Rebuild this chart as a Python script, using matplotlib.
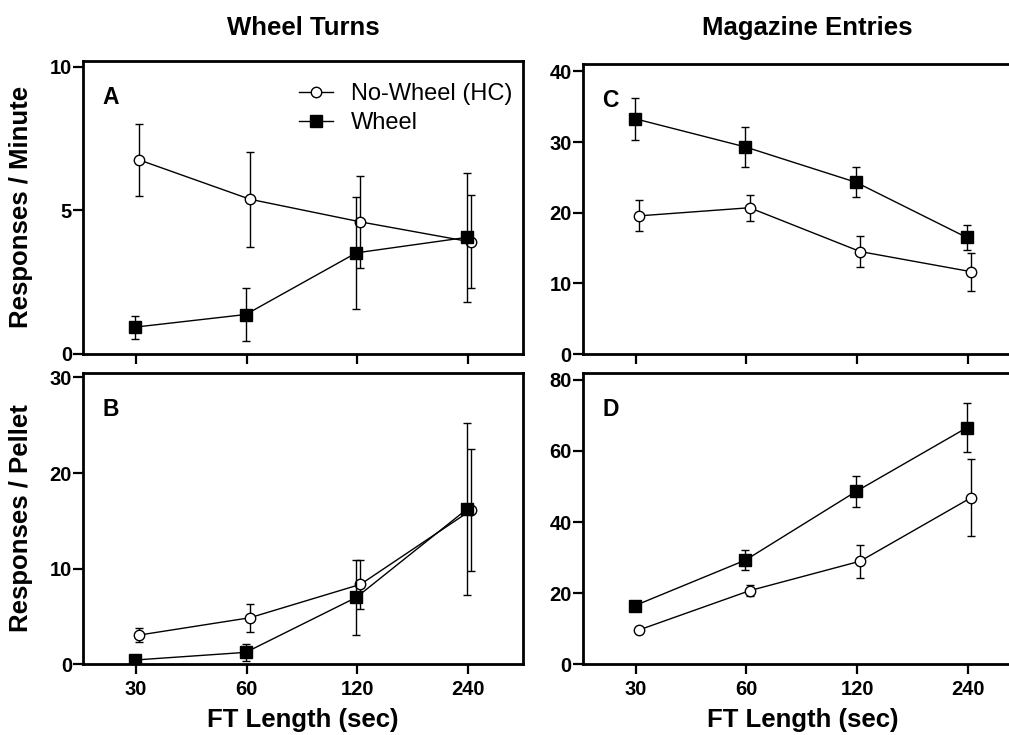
import numpy as np
import matplotlib
matplotlib.use('Agg')
import matplotlib.pyplot as plt
from matplotlib.lines import Line2D

plt.rcParams['font.family'] = ['Liberation Sans', 'DejaVu Sans']

# FT schedule lengths (sec)
ft = [30, 60, 120, 240]
ft_labels = ['30', '60', '120', '240']

# wheel turns: responses per minute (mean, sem)
wt_rate_hc = [6.75, 5.38, 4.59, 3.89]
wt_rate_hc_err = [1.25, 1.65, 1.60, 1.62]
wt_rate_wh = [0.92, 1.36, 3.51, 4.05]
wt_rate_wh_err = [0.40, 0.92, 1.95, 2.25]

# wheel turns: responses per pellet
wt_pel_hc = [3.06, 4.87, 8.36, 16.12]
wt_pel_hc_err = [0.70, 1.45, 2.55, 6.40]
wt_pel_wh = [0.45, 1.25, 7.00, 16.23]
wt_pel_wh_err = [0.30, 0.90, 3.90, 9.00]

# magazine entries: responses per minute
me_rate_hc = [19.55, 20.70, 14.50, 11.66]
me_rate_hc_err = [2.20, 1.85, 2.25, 2.70]
me_rate_wh = [33.30, 29.30, 24.30, 16.50]
me_rate_wh_err = [3.00, 2.85, 2.15, 1.75]

# magazine entries: responses per pellet
me_pel_hc = [9.66, 20.70, 29.00, 46.80]
me_pel_hc_err = [0.80, 1.60, 4.60, 10.80]
me_pel_wh = [16.50, 29.30, 48.60, 66.50]
me_pel_wh_err = [1.20, 2.90, 4.35, 6.90]

W, H = 1009, 735
fig = plt.figure(figsize=(W / 100, H / 100), dpi=100)


def box(l, t, r, b):
    return [l / W, 1 - b / H, (r - l) / W, (b - t) / H]


axA = fig.add_axes(box(83, 61, 523, 353.5))
axB = fig.add_axes(box(83, 372.7, 523, 664.3))
axC = fig.add_axes(box(582.7, 64.3, 1022.7, 354))
axD = fig.add_axes(box(582.7, 372.7, 1022.7, 664.3))

panels = [
    (axA, 'A', wt_rate_hc, wt_rate_hc_err, wt_rate_wh, wt_rate_wh_err, 10.2, [0, 5, 10]),
    (axB, 'B', wt_pel_hc, wt_pel_hc_err, wt_pel_wh, wt_pel_wh_err, 30.5, [0, 10, 20, 30]),
    (axC, 'C', me_rate_hc, me_rate_hc_err, me_rate_wh, me_rate_wh_err, 41.0, [0, 10, 20, 30, 40]),
    (axD, 'D', me_pel_hc, me_pel_hc_err, me_pel_wh, me_pel_wh_err, 82.0, [0, 20, 40, 60, 80]),
]

hc_style = dict(color='black', lw=1.0, marker='o', ms=7.5, mfc='white', mec='black', mew=1.0)
wh_style = dict(color='black', lw=1.0, marker='s', ms=8.5, mfc='black', mec='black')

x = np.array(ft, dtype=float)
for ax, letter, hc, hc_err, wh, wh_err, ytop, yt in panels:
    # small horizontal dodge so the two groups don't sit on top of each other
    ax.errorbar(x * 1.02, hc, yerr=hc_err, elinewidth=1.0, capsize=3, capthick=1.0,
                zorder=3, **hc_style)
    ax.errorbar(x * 0.994, wh, yerr=wh_err, elinewidth=1.0, capsize=3, capthick=1.0,
                zorder=4, **wh_style)
    ax.set_xscale('log', base=2)
    ax.set_xlim(21.5, 339)
    ax.set_ylim(0, ytop)
    ax.set_xticks(ft)
    ax.minorticks_off()
    ax.set_yticks(yt)
    for s in ax.spines.values():
        s.set_linewidth(2)
    ax.tick_params(width=1.6, length=7, labelsize=14.5, pad=1)
    ax.tick_params(axis='x', pad=4)
    for lab in ax.get_yticklabels() + ax.get_xticklabels():
        lab.set_fontweight('bold')
    ax.text(0.045, 0.853, letter, transform=ax.transAxes, fontsize=16.5,
            fontweight='bold', va='baseline', ha='left')

for ax in (axA, axC):
    ax.set_xticklabels([])
for ax in (axB, axD):
    ax.set_xticklabels(ft_labels, fontweight='bold')
    ax.set_xlabel('FT Length (sec)', fontsize=18.5, fontweight='bold')
    ax.xaxis.set_label_coords(0.5, -0.15)

axA.set_ylabel('Responses / Minute', fontsize=18.5, fontweight='bold')
axB.set_ylabel('Responses / Pellet', fontsize=18.5, fontweight='bold')
axA.yaxis.set_label_coords(-0.114, 0.5)
axB.yaxis.set_label_coords(-0.114, 0.5)

fig.text(303 / W, 1 - 35 / H, 'Wheel Turns', fontsize=18.5, fontweight='bold',
         ha='center', va='baseline')
fig.text(807 / W, 1 - 35 / H, 'Magazine Entries', fontsize=18.5, fontweight='bold',
         ha='center', va='baseline')

handles = [Line2D([], [], **hc_style), Line2D([], [], **wh_style)]
axA.legend(handles, ['No-Wheel (HC)', 'Wheel'], loc='upper left',
           bbox_to_anchor=(0.491, 0.925), frameon=False, fontsize=17, borderpad=0,
           borderaxespad=0, handlelength=1.45, handletextpad=0.75, labelspacing=0.3)

fig.savefig('out.png', dpi=100)
